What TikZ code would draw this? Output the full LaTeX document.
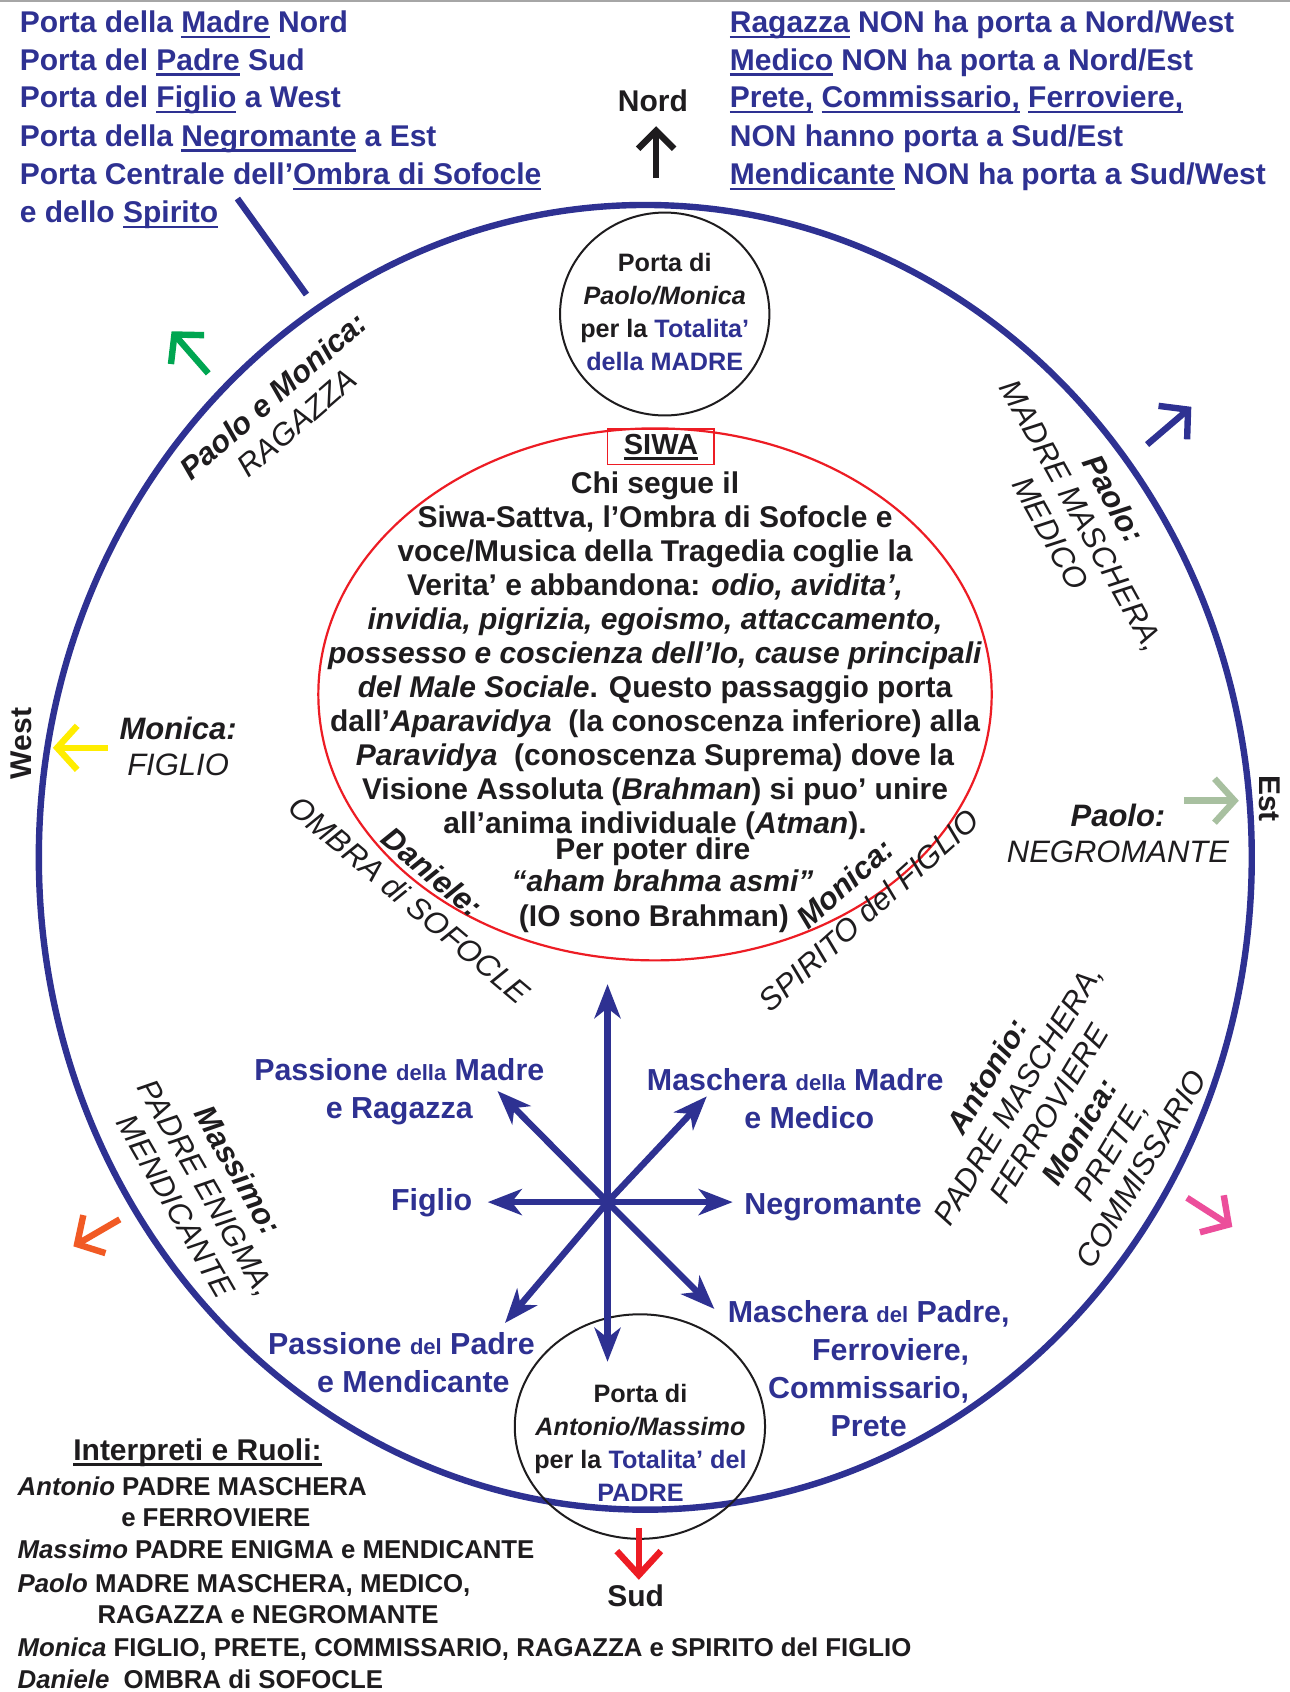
\documentclass[tikz,border=0pt]{standalone}
\usepackage{fontspec}
\setmainfont{Liberation Sans}
\usetikzlibrary{arrows.meta,shapes.geometric}
\definecolor{navy}{RGB}{46,49,146}
\definecolor{ink}{RGB}{30,28,30}
\definecolor{cgreen}{RGB}{0,166,81}
\definecolor{cyellow}{RGB}{255,237,0}
\definecolor{corange}{RGB}{241,90,36}
\definecolor{cpink}{RGB}{236,78,155}
\definecolor{csage}{RGB}{168,192,160}
\definecolor{cred}{RGB}{237,28,36}
\newlength\ulw
\newcommand\myul[1]{\settowidth{\ulw}{#1}\rlap{\rule[-2.8pt]{\ulw}{1.2pt}}#1}
\newcommand\sm[1]{{\fontsize{11}{13}\selectfont #1}}
\begin{document}
\begin{tikzpicture}[x=0.53975pt,y=-0.53975pt,
  hdr/.style={inner sep=0pt,text=navy,font=\fontsize{15}{19}\selectfont\bfseries,anchor=base west},
  ctr/.style={inner sep=0pt,text=ink,font=\fontsize{15}{17}\selectfont\bfseries,align=center},
  gatetxt/.style={inner sep=0pt,text=ink,font=\fontsize{12.6}{16.5}\selectfont\bfseries,align=center},
  role/.style={inner sep=0pt,text=ink,font=\fontsize{15.5}{18}\selectfont\itshape,align=center},
  starlbl/.style={inner sep=0pt,text=navy,font=\fontsize{15.2}{19}\selectfont\bfseries,align=center},
  compass/.style={inner sep=0pt,text=ink,font=\fontsize{15}{17}\selectfont\bfseries},
  legend/.style={inner sep=0pt,text=ink,font=\fontsize{12.9}{16}\selectfont\bfseries,anchor=base west},
  gatearrow/.style={line width=3.2pt,-{Straight Barb[length=10pt,width=22pt]}},
  stararrow/.style={navy,line width=3.2pt,-{Stealth[length=17pt,width=13pt,inset=5pt]}},
  ring/.style={draw,ellipse,inner sep=0pt}
]
\useasboundingbox (0,0) rectangle (1195,1568);
\fill[white] (0,0) rectangle (1195,1568);
\draw[gray!70,line width=0.8pt] (0,0.8) -- (1195,0.8);

% rings
\node[ring,draw=navy,line width=3.2pt,minimum width=606.7pt,minimum height=652.6pt] (outer) at (598,794.5) {};
\node[ring,draw=cred,line width=1.1pt,minimum width=336.8pt,minimum height=266.1pt] (inner) at (607,643.5) {};
\node[ring,draw=ink,line width=1pt,minimum width=104.7pt,minimum height=101.5pt] (topgate) at (616,291) {};
\node[ring,draw=ink,line width=1pt,minimum width=125.2pt,minimum height=112.3pt] (botgate) at (593,1322) {};

% pointer line
\coordinate (ptA) at (220,184);
\coordinate (ptB) at (284,273);
\draw[navy,line width=3.2pt] (ptA) -- (ptB);

% header texts
\node[hdr] (h1) at (18,30) {Porta della \myul{Madre} Nord};
\node[hdr] (h2) at (18,65) {Porta del \myul{Padre} Sud};
\node[hdr] (h3) at (18,100) {Porta del \myul{Figlio} a West};
\node[hdr] (h4) at (18,135.5) {Porta della \myul{Negromante} a Est};
\node[hdr] (h5) at (18,171) {Porta Centrale dell’\myul{Ombra di Sofocle}};
\node[hdr] (h6) at (18,206.5) {e dello \myul{Spirito}};

\node[hdr] (r1) at (676,30) {\myul{Ragazza} NON ha porta a Nord/West};
\node[hdr] (r2) at (676,65) {\myul{Medico} NON ha porta a Nord/Est};
\node[hdr] (r3) at (676,100) {\myul{Prete,} \myul{Commissario,} \myul{Ferroviere,}};
\node[hdr] (r4) at (676,135.5) {NON hanno porta a Sud/Est};
\node[hdr] (r5) at (676,171) {\myul{Mendicante} NON ha porta a Sud/West};

% compass arrows
\coordinate (nA) at (608,165); \coordinate (nB) at (608,117);
\draw[gatearrow,ink,-{Straight Barb[length=9pt,width=18pt]}] (nA) -- (nB);
\coordinate (gA) at (193,346); \coordinate (gB) at (159,307);
\draw[gatearrow,cgreen] (gA) -- (gB);
\coordinate (yA) at (100,693); \coordinate (yB) at (49,693);
\draw[gatearrow,cyellow] (yA) -- (yB);
\coordinate (oA) at (111,1130); \coordinate (oB) at (68,1155);
\draw[gatearrow,corange] (oA) -- (oB);
\coordinate (pA) at (1100,1110); \coordinate (pB) at (1142,1137);
\draw[gatearrow,cpink] (pA) -- (pB);
\coordinate (bA) at (1063,412); \coordinate (bB) at (1104,377);
\draw[gatearrow,navy] (bA) -- (bB);
\coordinate (eA) at (1097,742); \coordinate (eB) at (1148,742);
\draw[gatearrow,csage] (eA) -- (eB);
\coordinate (sA) at (592,1416); \coordinate (sB) at (592,1464);
\draw[gatearrow,cred,-{Straight Barb[length=12pt,width=22pt]}] (sA) -- (sB);

\node[compass] (nord) at (605,93) {Nord};
\node[compass] (sud) at (589,1479) {Sud};
\node[compass,rotate=90] (west) at (20,689) {West};
\node[compass,rotate=-90] (est) at (1177,740) {Est};

% gate texts
\node[gatetxt] (topgatetxt) at (616,289) {Porta di\\\textit{Paolo/Monica}\\per la \textcolor{navy}{Totalita’}\\\textcolor{navy}{della MADRE}};
\node[gatetxt] (botgatetxt) at (593.5,1337) {Porta di\\\textit{Antonio/Massimo}\\per la \textcolor{navy}{Totalita’ del}\\\textcolor{navy}{PADRE}};

% SIWA
\node[draw=cred,line width=0.9pt,minimum width=53.4pt,minimum height=17.8pt,inner sep=0pt,text=ink,font=\fontsize{14.5}{16}\selectfont\bfseries] (siwa) at (612.5,414) {\myul{SIWA}};
\node[ctr] (siwatext) at (607,608) {Chi segue il\\
Siwa-Sattva, l’Ombra di Sofocle e\\
voce/Musica della Tragedia coglie la\\
Verita’ e abbandona: \textit{odio, avidita’,}\\
\textit{invidia, pigrizia, egoismo, attaccamento,}\\
\textit{possesso e coscienza dell’Io, cause principali}\\
\textit{del Male Sociale}. Questo passaggio porta\\
dall’\textit{Aparavidya}\ \ (la conoscenza inferiore) alla\\
\textit{Paravidya}\ \ (conoscenza Suprema) dove la\\
Visione Assoluta (\textit{Brahman}) si puo’ unire\\
all’anima individuale (\textit{Atman}).};
\node[ctr] (perpoter) at (605,789) {Per poter dire};
\node[ctr] (aham) at (614,816) {\textit{“aham brahma asmi”}};
\node[ctr] (iosono) at (606,851) {(IO sono Brahman)};

% role labels
\node[role,rotate=41] (ragazza) at (264,379) {\textbf{Paolo e Monica:}\\RAGAZZA};
\node[role,rotate=-61] (medico) at (1003,478) {\textbf{Paolo:}\\MADRE MASCHERA,\\MEDICO};
\node[role] (figlio) at (165,692) {\textbf{Monica:}\\FIGLIO};
\node[role] (negro) at (1036,772) {\textbf{Paolo:}\\NEGROMANTE};
\node[role,rotate=-40] (ombra) at (390,821) {\textbf{Daniele:}\\OMBRA di SOFOCLE};
\node[role,rotate=42] (spirito) at (794,831) {\textbf{Monica:}\\SPIRITO del FIGLIO};
\node[role,rotate=-60] (massimo) at (192,1101) {\textbf{Massimo:}\\PADRE ENIGMA,\\MENDICANTE};
\node[role,rotate=59] (antonio) at (986,1040) {\textbf{Antonio:}\\PADRE MASCHERA,\\FERROVIERE\\\textbf{Monica:}\\PRETE,\\COMMISSARIO};

% star
\coordinate (sc) at (563,1114);
\coordinate (sN) at (563,912);
\coordinate (sS) at (563,1262);
\coordinate (sW) at (452,1114);
\coordinate (sE) at (679,1114);
\coordinate (sNW) at (461,1011);
\coordinate (sNE) at (655,1016);
\coordinate (sSW) at (468,1226);
\coordinate (sSE) at (662,1213);
\foreach \t in {sN,sS,sW,sE,sNW,sNE,sSW,sSE} \draw[stararrow] (sc) -- (\t);

\node[starlbl] (lNW) at (370,1012) {Passione \sm{della} Madre\\e Ragazza};
\node[starlbl] (lNE) at (737,1018) {Maschera \sm{della} Madre\\\hspace*{14pt}e Medico};
\node[starlbl] (lW) at (400,1115) {Figlio};
\node[starlbl] (lE) at (772,1119) {Negromante};
\node[starlbl] (lSW) at (372,1263) {Passione \sm{del} Padre\\\hspace*{12pt}e Mendicante};
\node[starlbl] (lSE) at (805,1268) {Maschera \sm{del} Padre,\\\hspace*{22pt}Ferroviere,\\Commissario,\\Prete};

% legend
\node[inner sep=0pt,text=ink,font=\fontsize{15}{17}\selectfont\bfseries] (interp) at (183,1346) {\myul{Interpreti e Ruoli:}};
\node[legend] (lg1) at (16,1385.5) {\textit{Antonio} PADRE MASCHERA};
\node[legend] (lg2) at (112,1414.5) {e FERROVIERE};
\node[legend] (lg3) at (16,1444.5) {\textit{Massimo} PADRE ENIGMA e MENDICANTE};
\node[legend] (lg4) at (16,1475.5) {\textit{Paolo} MADRE MASCHERA, MEDICO,};
\node[legend] (lg5) at (90,1504.5) {RAGAZZA e NEGROMANTE};
\node[legend] (lg6) at (16,1535.5) {\textit{Monica} FIGLIO, PRETE, COMMISSARIO, RAGAZZA e SPIRITO del FIGLIO};
\node[legend] (lg7) at (16,1564.5) {\textit{Daniele}\ \ OMBRA di SOFOCLE};
\end{tikzpicture}
\end{document}
